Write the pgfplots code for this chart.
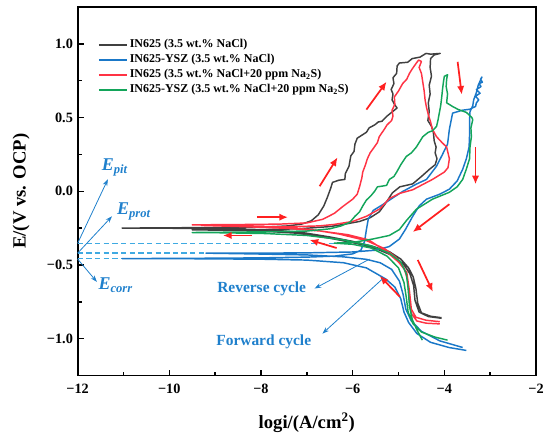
\documentclass[border=0pt]{standalone}
\usepackage{fontspec}
\setmainfont{Liberation Serif}
\usepackage{pgfplots}
\pgfplotsset{compat=1.18}
\usetikzlibrary{arrows.meta}
\definecolor{cgray}{HTML}{404040}
\definecolor{cblue}{HTML}{1A78C8}
\definecolor{cred}{HTML}{FF3344}
\definecolor{cgreen}{HTML}{13A55A}
\definecolor{cann}{HTML}{1F80CC}
\definecolor{cdash}{HTML}{3FAAE2}
\definecolor{carrow}{HTML}{FF2020}
\begin{document}
\begin{tikzpicture}
\begin{axis}[
  scale only axis, width=344.25pt, height=276.75pt,
  xmin=-12, xmax=-2, ymin=-1.25, ymax=1.25,
  xtick={-12,-10,-8,-6,-4,-2}, xticklabels={−12,−10,−8,−6,−4,−2},
  ytick={-1,-0.5,0,0.5,1}, yticklabels={−1.0,−0.5,0.0,0.5,1.0},
  minor xtick={-11,-9,-7,-5,-3}, minor ytick={-0.75,-0.25,0.25,0.75},
  xtick pos=bottom, ytick pos=left,
  tick align=inside, major tick length=4.5pt, minor tick length=3pt,
  every tick/.style={line width=1.1pt, black},
  axis line style={line width=1.4pt},
  ticklabel style={font=\bfseries\fontsize{10.7}{12}\selectfont},
  xticklabel style={yshift=-3pt},
  clip=false,
  legend cell align=left,
  legend style={draw=none, fill=none, at={(0.035,0.925)}, anchor=north west,
    font=\bfseries\fontsize{9}{11}\selectfont, nodes={inner sep=1.5pt}, row sep=0.5pt},
  legend image code/.code={\draw[#1, line width=1.4pt] (0pt,0pt) -- (21pt,0pt);},
  every axis plot/.append style={line width=1.1pt, line join=round},
]
\coordinate (SW) at (rel axis cs:0,0);
\coordinate (NE) at (rel axis cs:1,1);

% dashed reference lines
\begin{scope}[cdash, line width=1pt, dash pattern=on 4pt off 2.5pt]
\draw (axis cs:-12,-0.353) -- (axis cs:-6.32,-0.353);
\draw (axis cs:-12,-0.42) -- (axis cs:-9.2,-0.42);
\draw (axis cs:-12,-0.457) -- (axis cs:-11.0,-0.457);
\end{scope}

% IN625 NaCl (gray)
\addplot[cgray] coordinates {
(-4.06,-0.858) (-4.30,-0.848) (-4.50,-0.825) (-4.58,-0.76) (-4.62,-0.66) (-4.68,-0.58) (-4.78,-0.52)
(-4.95,-0.46) (-5.20,-0.41) (-5.55,-0.375) (-6.00,-0.34) (-6.50,-0.31) (-7.10,-0.28) (-7.80,-0.262)
(-8.80,-0.254) (-10.0,-0.251) (-11.03,-0.25)
(-10.0,-0.248) (-8.8,-0.246) (-7.9,-0.243) (-7.4,-0.235) (-7.1,-0.222) (-6.9,-0.20) (-6.75,-0.16)
(-6.63,-0.10) (-6.55,-0.04) (-6.48,0.02) (-6.44,0.06) (-6.30,0.075) (-6.17,0.08) (-6.16,0.12)
(-6.08,0.17) (-6.04,0.24) (-5.97,0.27) (-5.95,0.32) (-5.90,0.36) (-5.80,0.38) (-5.70,0.40)
(-5.64,0.43) (-5.52,0.45) (-5.44,0.47) (-5.36,0.475) (-5.25,0.51) (-5.15,0.535) (-5.03,0.565)
(-5.08,0.585) (-5.14,0.62) (-5.12,0.66) (-5.16,0.69) (-5.10,0.73) (-5.12,0.77) (-5.04,0.80)
(-5.03,0.85) (-4.98,0.87) (-4.80,0.875) (-4.70,0.90) (-4.53,0.91) (-4.40,0.935) (-4.30,0.93) (-4.09,0.935)
(-4.22,0.925) (-4.30,0.90) (-4.31,0.84) (-4.28,0.78) (-4.33,0.72) (-4.31,0.66) (-4.35,0.60)
(-4.33,0.54) (-4.36,0.48) (-4.28,0.44) (-4.24,0.40) (-4.22,0.34) (-4.18,0.30) (-4.20,0.26)
(-4.16,0.22) (-4.20,0.18) (-4.32,0.15) (-4.50,0.10) (-4.69,0.05) (-4.97,0.03) (-5.13,-0.01)
(-5.30,-0.09) (-5.42,-0.14) (-5.62,-0.18) (-5.85,-0.205) (-6.20,-0.225) (-6.50,-0.24) (-7.20,-0.255)
(-8.20,-0.262) (-9.50,-0.262)
(-8.20,-0.266) (-7.20,-0.285) (-6.50,-0.318) (-5.90,-0.355) (-5.45,-0.395) (-5.10,-0.44) (-4.88,-0.50)
(-4.75,-0.56) (-4.67,-0.64) (-4.64,-0.74) (-4.55,-0.82) (-4.35,-0.85) (-4.06,-0.862)
};
\addlegendentry{IN625 (3.5 wt.\% NaCl)}

% IN625-YSZ NaCl (blue)
\addplot[cblue] coordinates {
(-3.52,-1.08) (-3.90,-1.06) (-4.30,-1.025) (-4.60,-0.965) (-4.78,-0.89) (-4.88,-0.82) (-4.95,-0.73)
(-5.08,-0.65) (-5.28,-0.595) (-5.70,-0.52) (-6.20,-0.485) (-7.00,-0.467) (-8.00,-0.461) (-9.50,-0.458)
(-11.03,-0.457)
(-9.50,-0.455) (-8.00,-0.452) (-7.00,-0.447) (-6.40,-0.44) (-6.00,-0.425) (-5.82,-0.40) (-5.74,-0.34)
(-5.70,-0.26) (-5.66,-0.19) (-5.55,-0.13) (-5.34,-0.09) (-5.10,-0.04) (-4.90,0.00) (-4.60,0.05)
(-4.39,0.08) (-4.17,0.17) (-4.04,0.25) (-3.93,0.32) (-3.89,0.42) (-3.82,0.53) (-3.60,0.55)
(-3.45,0.556) (-3.32,0.575) (-3.30,0.60) (-3.25,0.62) (-3.32,0.645) (-3.22,0.665) (-3.30,0.69)
(-3.20,0.71) (-3.24,0.73) (-3.17,0.74) (-3.21,0.76) (-3.18,0.775)
(-3.26,0.72) (-3.30,0.67) (-3.36,0.62) (-3.38,0.58) (-3.44,0.54) (-3.45,0.48) (-3.45,0.38)
(-3.46,0.30) (-3.52,0.22) (-3.60,0.149) (-3.72,0.07) (-3.89,0.014) (-4.10,-0.02) (-4.39,-0.054)
(-4.55,-0.10) (-4.69,-0.17) (-4.85,-0.26) (-4.98,-0.324) (-5.20,-0.375) (-5.50,-0.40) (-6.00,-0.412)
(-7.00,-0.418) (-8.20,-0.42) (-9.20,-0.42)
(-8.20,-0.425) (-7.00,-0.432) (-6.20,-0.445) (-5.70,-0.462) (-5.40,-0.485) (-5.15,-0.53) (-4.98,-0.61)
(-4.90,-0.70) (-4.84,-0.80) (-4.72,-0.88) (-4.50,-0.95) (-4.10,-1.015) (-3.60,-1.06)
};
\addlegendentry{IN625-YSZ (3.5 wt.\% NaCl)}

% IN625 NaCl + Na2S (red)
\addplot[cred] coordinates {
(-4.10,-0.90) (-4.40,-0.895) (-4.60,-0.88) (-4.72,-0.83) (-4.77,-0.72) (-4.80,-0.60) (-4.88,-0.52)
(-5.05,-0.45) (-5.30,-0.39) (-5.70,-0.335) (-6.30,-0.29) (-6.90,-0.26) (-7.60,-0.243) (-8.50,-0.234)
(-9.50,-0.228)
(-8.50,-0.226) (-7.60,-0.223) (-7.00,-0.215) (-6.65,-0.19) (-6.40,-0.15) (-6.20,-0.10) (-6.00,-0.054)
(-5.90,-0.02) (-5.85,0.03) (-5.80,0.09) (-5.78,0.13) (-5.72,0.18) (-5.68,0.22) (-5.62,0.26)
(-5.55,0.29) (-5.46,0.33) (-5.42,0.37) (-5.31,0.42) (-5.25,0.45) (-5.15,0.48) (-5.12,0.51)
(-5.14,0.55) (-5.08,0.59) (-5.09,0.64) (-5.00,0.68) (-4.91,0.73) (-4.82,0.76) (-4.76,0.80)
(-4.70,0.83) (-4.61,0.87) (-4.56,0.89) (-4.50,0.88)
(-4.55,0.84) (-4.50,0.80) (-4.47,0.74) (-4.44,0.68) (-4.42,0.62) (-4.39,0.57) (-4.35,0.52)
(-4.30,0.47) (-4.26,0.42) (-4.17,0.37) (-4.05,0.33) (-3.95,0.30) (-3.89,0.22) (-3.92,0.16)
(-4.00,0.13) (-4.26,0.08) (-4.69,0.01) (-4.98,-0.015) (-5.20,-0.05) (-5.41,-0.12) (-5.70,-0.17)
(-6.00,-0.205) (-6.40,-0.225) (-6.72,-0.235) (-7.50,-0.242) (-8.40,-0.236) (-9.30,-0.232)
(-8.40,-0.24) (-7.40,-0.252) (-6.70,-0.27) (-6.10,-0.295) (-5.65,-0.33) (-5.26,-0.41) (-5.00,-0.48)
(-4.82,-0.55) (-4.76,-0.68) (-4.72,-0.80) (-4.62,-0.855) (-4.40,-0.875) (-4.10,-0.885)
};
\addlegendentry{IN625 (3.5 wt.\% NaCl+20 ppm Na\textsubscript{2}S)}

% IN625-YSZ NaCl + Na2S (green)
\addplot[cgreen] coordinates {
(-4.48,-1.01) (-4.60,-0.94) (-4.70,-0.87) (-4.76,-0.78) (-4.79,-0.66) (-4.83,-0.56) (-4.95,-0.48)
(-5.20,-0.42) (-5.60,-0.37) (-6.20,-0.33) (-7.00,-0.30) (-7.90,-0.287) (-8.80,-0.282) (-9.50,-0.28)
(-8.80,-0.278) (-7.90,-0.275) (-7.00,-0.27) (-6.50,-0.255) (-6.25,-0.235) (-6.06,-0.21) (-5.95,-0.17)
(-5.85,-0.14) (-5.78,-0.10) (-5.70,-0.06) (-5.60,-0.03) (-5.52,0.00) (-5.46,0.03) (-5.35,0.035)
(-5.26,0.04) (-5.20,0.08) (-5.10,0.10) (-5.04,0.13) (-4.95,0.18) (-4.83,0.236) (-4.72,0.26)
(-4.61,0.30) (-4.55,0.33) (-4.47,0.37) (-4.35,0.40) (-4.26,0.41) (-4.17,0.44) (-4.14,0.48)
(-4.11,0.53) (-4.08,0.58) (-4.06,0.63) (-4.04,0.69) (-4.02,0.74) (-4.00,0.78) (-3.93,0.79)
(-3.95,0.76) (-3.96,0.71) (-3.93,0.66) (-3.95,0.60) (-3.82,0.575) (-3.70,0.555) (-3.52,0.535)
(-3.40,0.50) (-3.38,0.486) (-3.42,0.43) (-3.41,0.37) (-3.44,0.30) (-3.45,0.22) (-3.52,0.15)
(-3.60,0.08) (-3.72,0.03) (-3.89,-0.007) (-4.26,-0.054) (-4.61,-0.122) (-4.83,-0.20) (-4.98,-0.26)
(-5.20,-0.30) (-5.56,-0.324) (-5.95,-0.345) (-6.40,-0.352)
(-6.00,-0.36) (-5.60,-0.385) (-5.25,-0.44) (-5.00,-0.52) (-4.88,-0.62) (-4.83,-0.72) (-4.79,-0.82)
(-4.68,-0.90) (-4.50,-0.955) (-4.20,-0.99) (-3.93,-1.01)
};
\addlegendentry{IN625-YSZ (3.5 wt.\% NaCl+20 ppm Na\textsubscript{2}S)}

% red direction arrows
\begin{scope}[carrow, line width=1.3pt, -{Latex[length=6.5pt,width=5.5pt]}]
\draw (axis cs:-8.09,-0.176) -- (axis cs:-7.41,-0.176);
\draw (axis cs:-8.20,-0.30) -- (axis cs:-8.83,-0.30);
\draw (axis cs:-6.35,-0.385) -- (axis cs:-6.94,-0.33);
\draw (axis cs:-6.72,0.034) -- (axis cs:-6.33,0.23);
\draw (axis cs:-5.70,0.554) -- (axis cs:-5.26,0.743);
\draw (axis cs:-3.71,0.878) -- (axis cs:-3.62,0.655);
\draw (axis cs:-3.32,0.297) -- (axis cs:-3.32,0.047);
\draw (axis cs:-3.89,-0.088) -- (axis cs:-4.69,-0.277);
\draw (axis cs:-4.58,-0.466) -- (axis cs:-4.25,-0.683);
\draw (axis cs:-4.97,-0.716) -- (axis cs:-5.41,-0.574);
\end{scope}

% blue annotation arrows
\begin{scope}[cann, line width=0.6pt, -{Stealth[length=5pt,width=3.5pt]}]
\draw (axis cs:-12,-0.353) -- (axis cs:-11.34,0.081);
\draw (axis cs:-12,-0.42) -- (axis cs:-11.25,-0.17);
\draw (axis cs:-12,-0.46) -- (axis cs:-11.58,-0.615);
\draw (axis cs:-5.63,-0.46) -- (axis cs:-6.83,-0.66);
\draw (axis cs:-5.35,-0.595) -- (axis cs:-6.66,-0.966);
\end{scope}

\node[cann, font=\bfseries\itshape\fontsize{13.5}{14}\selectfont] at (axis cs:-11.19,0.162) {E\textsubscript{pit}};
\node[cann, font=\bfseries\itshape\fontsize{13.5}{14}\selectfont] at (axis cs:-10.77,-0.135) {E\textsubscript{prot}};
\node[cann, font=\bfseries\itshape\fontsize{13.5}{14}\selectfont] at (axis cs:-11.17,-0.64) {E\textsubscript{corr}};
\node[cann, font=\bfseries\fontsize{11.6}{13}\selectfont] at (axis cs:-7.985,-0.662) {Reverse cycle};
\node[cann, font=\bfseries\fontsize{11.6}{13}\selectfont] at (axis cs:-7.94,-1.02) {Forward cycle};

% axis labels
\node[rotate=90, font=\bfseries\fontsize{14}{16}\selectfont] at ([xshift=-42.5pt]rel axis cs:0,0.5) {E/(V vs. OCP)};
\node[font=\bfseries\fontsize{14}{16}\selectfont] at ([yshift=-35.25pt]rel axis cs:0.5,0) {logi/(A/cm\textsuperscript{2})};
\end{axis}
\pgfresetboundingbox
\path ([shift={(-58.3pt,-47.25pt)}]SW) rectangle ([shift={(10.5pt,5.25pt)}]NE);
\end{tikzpicture}
\end{document}
